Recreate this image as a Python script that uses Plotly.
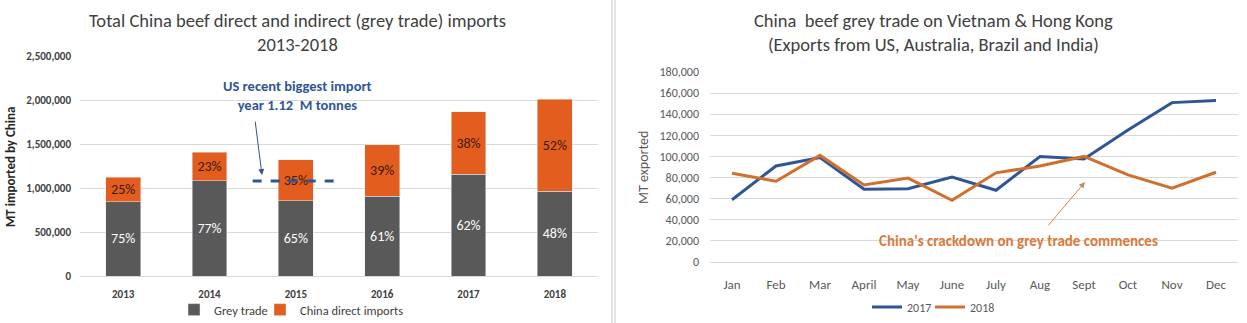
import plotly.graph_objects as go

W, H = 1247, 323
FONT = "Carlito, Lato, 'Open Sans', sans-serif"

# ---------------- Left chart data ----------------
years = ["2013", "2014", "2015", "2016", "2017", "2018"]
grey_trade = [843000, 1085000, 858000, 908000, 1156000, 965000]
china_direct = [282000, 324000, 462000, 581000, 708000, 1046000]
grey_pct = ["75%", "77%", "65%", "61%", "62%", "48%"]
direct_pct = ["25%", "23%", "35%", "39%", "38%", "52%"]
us_biggest = 1080000
left_ticks = [0, 500000, 1000000, 1500000, 2000000, 2500000]

# ---------------- Right chart data ----------------
months = ["Jan", "Feb", "Mar", "April", "May", "June", "July", "Aug", "Sept", "Oct", "Nov", "Dec"]
exp_2017 = [59000, 91000, 99000, 69000, 69500, 80500, 68000, 100000, 97500, 125000, 151000, 153000]
exp_2018 = [84000, 76500, 101000, 73000, 79500, 58500, 84500, 91000, 100000, 82500, 70000, 85000]

GREY = "#595959"
ORANGE = "#E35D1E"
BLUE = "#2F5597"
LORANGE = "#D0702F"


def px(x):
    return x / W


def py(y):
    return 1 - y / H


fig = go.Figure()

fig.add_trace(go.Bar(
    x=years, y=grey_trade, name="Grey trade", marker_color=GREY,
    text=grey_pct, textposition="inside", insidetextanchor="middle",
    textfont=dict(color="white", size=14, family=FONT),
    xaxis="x", yaxis="y", legend="legend", hoverinfo="skip"))
fig.add_trace(go.Bar(
    x=years, y=china_direct, name="China direct imports", marker_color=ORANGE,
    text=direct_pct, textposition="inside", insidetextanchor="middle",
    textfont=dict(color="#3A1A0A", size=14, family=FONT),
    xaxis="x", yaxis="y", legend="legend2", hoverinfo="skip"))

fig.add_trace(go.Scatter(
    x=months, y=exp_2017, name="2017", mode="lines",
    line=dict(color=BLUE, width=3), xaxis="x2", yaxis="y2", legend="legend3"))
fig.add_trace(go.Scatter(
    x=months, y=exp_2018, name="2018", mode="lines",
    line=dict(color=LORANGE, width=3), xaxis="x2", yaxis="y2", legend="legend4"))


def leg(x_text, y, size, color):
    return dict(orientation="h", x=px(x_text - 40), xanchor="left", y=py(y), yanchor="middle",
                font=dict(size=size, color=color), itemwidth=30,
                bgcolor="rgba(0,0,0,0)")


grid = "#D9D9D9"
fig.update_layout(
    width=W, height=H, margin=dict(l=0, r=0, t=0, b=0, autoexpand=False),
    paper_bgcolor="white", plot_bgcolor="white",
    barmode="stack", bargap=0.595,
    font=dict(family=FONT, color="#404040"),
    xaxis=dict(domain=[px(80), px(598)], anchor="y", type="category",
               range=[-0.5, 5.5], showgrid=False, showline=True, linecolor=grid,
               ticks="", tickvals=years, ticktext=["<b>%s</b>" % y for y in years],
               tickfont=dict(size=11, color="#404040"), ticklabelstandoff=8),
    yaxis=dict(domain=[py(276), py(56)], anchor="x", range=[0, 2500000],
               tickvals=left_ticks, ticktext=["<b>{:,}</b>".format(v) for v in left_ticks],
               gridcolor=grid, showline=False, zeroline=False, ticks="", ticklabelstandoff=8,
               tickfont=dict(size=11, color="#404040")),
    xaxis2=dict(domain=[px(710), px(1238)], anchor="y2", type="category",
                range=[-0.5, 11.5], showgrid=False, showline=True, linecolor=grid,
                ticks="", tickfont=dict(size=13, color="#595959"), ticklabelstandoff=10),
    yaxis2=dict(domain=[py(262), py(72)], anchor="x2", range=[0, 180000],
                dtick=20000, tickformat=",", gridcolor=grid, zeroline=False,
                ticks="", ticklabelstandoff=10,
                tickfont=dict(size=12, color="#595959")),
    legend=leg(214, 310, 12.5, "#404040"),
    legend2=leg(300, 310, 12.5, "#404040"),
    legend3=leg(907, 307, 12, "#595959"),
    legend4=leg(970, 307, 12, "#595959"),
    showlegend=True,
)

annotations = [
    dict(text="Total China beef direct and indirect (grey trade) imports<br>2013-2018",
         x=px(297), y=py(33), xref="paper", yref="paper", showarrow=False,
         font=dict(size=18.5, color="#404040"), xanchor="center", yanchor="middle"),
    dict(text="China  beef grey trade on Vietnam &amp; Hong Kong<br>(Exports from US, Australia, Brazil and India)",
         x=px(933), y=py(33), xref="paper", yref="paper", showarrow=False,
         font=dict(size=18.5, color="#404040"), xanchor="center", yanchor="middle"),
    dict(text="<b>MT imported by China</b>", x=px(10), y=py(167), xref="paper", yref="paper",
         showarrow=False, textangle=-90, font=dict(size=13, color="#262626"),
         xanchor="center", yanchor="middle"),
    dict(text="MT exported", x=px(643), y=py(167), xref="paper", yref="paper",
         showarrow=False, textangle=-90, font=dict(size=14, color="#595959"),
         xanchor="center", yanchor="middle"),
    dict(text="<b>US recent biggest import<br>year 1.12  M tonnes</b>", x=px(297), y=py(95),
         xref="paper", yref="paper", showarrow=False,
         font=dict(size=14.5, color=BLUE), xanchor="center", yanchor="middle"),
    dict(text="", x=px(262), y=py(175), xref="paper", yref="paper", showarrow=True,
         ax=-7, ay=-55, arrowhead=2, arrowsize=1.2, arrowwidth=1, arrowcolor=BLUE),
    dict(text="<b>China's crackdown on grey trade commences</b>", x=px(1018), y=py(241),
         xref="paper", yref="paper", showarrow=False,
         font=dict(size=15, color="#DB7A3A"), xanchor="center", yanchor="middle"),
    dict(text="", x=px(1085), y=py(182), xref="paper", yref="paper", showarrow=True,
         ax=-38, ay=45, arrowhead=2, arrowsize=1.2, arrowwidth=1, arrowcolor="#C98A55"),
]
fig.update_layout(annotations=annotations)

shapes = [
    dict(type="line", xref="x", yref="y", x0=1.5, x1=2.53, y0=us_biggest, y1=us_biggest,
         line=dict(color=BLUE, width=3, dash="dash")),
    dict(type="line", xref="paper", yref="paper", x0=px(612), x1=px(612), y0=0, y1=1,
         line=dict(color="#C8C8C8", width=1)),
    dict(type="line", xref="paper", yref="paper", x0=px(615), x1=px(615), y0=0, y1=1,
         line=dict(color="#C8C8C8", width=1)),
]
fig.update_layout(shapes=shapes)

fig.write_html("out.html")
